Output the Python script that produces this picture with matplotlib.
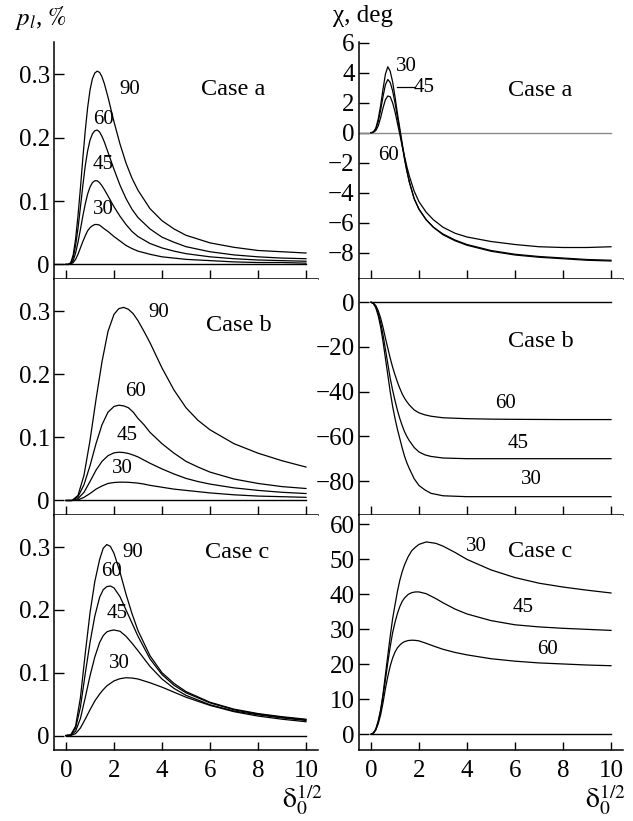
import numpy as np
import matplotlib
matplotlib.use("Agg")
import matplotlib.pyplot as plt
from matplotlib.ticker import FixedLocator, FuncFormatter

plt.rcParams["font.family"] = ["Liberation Serif", "DejaVu Serif"]
plt.rcParams["mathtext.fontset"] = "stix"

angles = ["90", "60", "45", "30"]
angles_chi = ["30", "45", "60"]

# ---- Case a: degree of linear polarization, p_l (%) ----
xa = [0, 0.1, 0.2, 0.3, 0.4, 0.5, 0.6, 0.7, 0.8, 0.9, 1.0, 1.1, 1.2, 1.3, 1.4, 1.5, 1.6, 1.75,
      2.0, 2.25, 2.5, 2.75, 3.0, 3.5, 4, 4.5, 5, 6, 7, 8, 9, 10]
pa_90 = [0, 0, 0.003, 0.015, 0.04, 0.077, 0.12, 0.167, 0.21, 0.247, 0.275, 0.293, 0.302, 0.305, 0.303, 0.296,
         0.285, 0.264, 0.225, 0.19, 0.16, 0.136, 0.117, 0.088, 0.069, 0.056, 0.046, 0.034, 0.027, 0.022, 0.020, 0.018]
pa_60 = [0, 0, 0.002, 0.011, 0.03, 0.057, 0.09, 0.124, 0.155, 0.179, 0.196, 0.206, 0.211, 0.212, 0.209, 0.202,
         0.193, 0.177, 0.150, 0.125, 0.104, 0.087, 0.074, 0.056, 0.043, 0.035, 0.028, 0.020, 0.015, 0.012, 0.010, 0.009]
pa_45 = [0, 0, 0.001, 0.006, 0.018, 0.035, 0.055, 0.076, 0.095, 0.111, 0.122, 0.129, 0.132, 0.132, 0.129, 0.124,
         0.118, 0.108, 0.091, 0.076, 0.063, 0.052, 0.044, 0.033, 0.026, 0.021, 0.017, 0.012, 0.009, 0.007, 0.006, 0.005]
pa_30 = [0, 0, 0.0005, 0.003, 0.008, 0.016, 0.026, 0.036, 0.045, 0.053, 0.058, 0.061, 0.063, 0.063, 0.062, 0.059,
         0.056, 0.052, 0.044, 0.037, 0.030, 0.025, 0.021, 0.016, 0.012, 0.010, 0.008, 0.006, 0.004, 0.003, 0.003, 0.002]

# ---- Case a: polarization angle, chi (deg) ----
xca = [0, 0.1, 0.2, 0.3, 0.4, 0.5, 0.6, 0.7, 0.8, 0.9, 1.0, 1.1, 1.2, 1.3, 1.4, 1.5, 1.6, 1.8, 2.0, 2.3,
       2.6, 3, 3.5, 4, 5, 6, 7, 8, 9, 10]
ca_30 = [0, 0.05, 0.3, 0.9, 1.8, 2.9, 3.9, 4.4, 4.1, 3.4, 2.4, 1.3, 0.3, -0.7, -1.7, -2.55, -3.3, -4.4, -5.1,
         -5.8, -6.3, -6.8, -7.2, -7.5, -7.9, -8.15, -8.3, -8.4, -8.5, -8.55]
ca_45 = [0, 0.05, 0.25, 0.75, 1.5, 2.4, 3.2, 3.55, 3.35, 2.8, 2.0, 1.05, 0.1, -0.85, -1.8, -2.6, -3.3, -4.4,
         -5.1, -5.8, -6.3, -6.75, -7.15, -7.45, -7.85, -8.1, -8.25, -8.35, -8.45, -8.5]
ca_60 = [0, 0.03, 0.15, 0.45, 1.0, 1.65, 2.2, 2.45, 2.4, 2.0, 1.4, 0.65, -0.1, -0.9, -1.6, -2.3, -2.9, -3.9,
         -4.6, -5.3, -5.8, -6.3, -6.7, -6.95, -7.25, -7.45, -7.6, -7.65, -7.65, -7.6]

# ---- Case b ----
xb = [0, 0.25, 0.5, 0.75, 1.0, 1.25, 1.5, 1.75, 2.0, 2.2, 2.4, 2.6, 2.8, 3.0, 3.25, 3.5, 4, 4.5, 5, 5.5,
      6, 7, 8, 9, 10]
pb_90 = [0, 0, 0.008, 0.04, 0.095, 0.16, 0.22, 0.268, 0.295, 0.304, 0.306, 0.303, 0.296, 0.285, 0.268, 0.25,
         0.21, 0.175, 0.147, 0.127, 0.112, 0.09, 0.075, 0.063, 0.053]
pb_60 = [0, 0, 0.006, 0.025, 0.055, 0.09, 0.12, 0.14, 0.149, 0.151, 0.150, 0.147, 0.14, 0.13, 0.12, 0.108,
         0.09, 0.075, 0.062, 0.053, 0.045, 0.034, 0.027, 0.022, 0.019]
pb_45 = [0, 0, 0.003, 0.013, 0.03, 0.048, 0.062, 0.071, 0.0755, 0.0765, 0.076, 0.0745, 0.072, 0.069, 0.064,
         0.059, 0.05, 0.042, 0.035, 0.030, 0.026, 0.02, 0.016, 0.013, 0.011]
pb_30 = [0, 0, 0.001, 0.005, 0.011, 0.018, 0.023, 0.027, 0.0285, 0.029, 0.029, 0.0288, 0.0282, 0.0275, 0.026,
         0.024, 0.021, 0.018, 0.016, 0.014, 0.012, 0.009, 0.007, 0.006, 0.005]

xcb = [0, 0.1, 0.2, 0.3, 0.4, 0.5, 0.6, 0.7, 0.8, 0.9, 1.0, 1.1, 1.2, 1.3, 1.4, 1.5, 1.6, 1.8, 2.0, 2.25,
       2.5, 3, 4, 5, 6, 8, 10]
cb_60 = [0, -0.4, -1.5, -3.8, -7, -11.2, -16, -20.5, -25, -29, -32.5, -35.7, -38.5, -41, -43, -44.6, -46,
         -48.2, -49.5, -50.4, -51, -51.7, -52.1, -52.3, -52.4, -52.5, -52.5]
cb_45 = [0, -0.5, -2, -5, -9, -14.5, -21, -27.5, -34, -39.3, -44, -48.3, -52, -55.2, -58, -60.2, -62, -65,
         -67, -68.3, -69, -69.7, -70, -70, -70, -70, -70]
cb_30 = [0, -0.6, -2.5, -6, -11, -17.5, -25, -32.5, -40, -46.5, -52, -56.8, -61, -65.2, -69, -72, -74.5,
         -79, -82, -84, -85.5, -86.6, -87, -87, -87, -87, -87]

# ---- Case c ----
xc = [0, 0.2, 0.4, 0.6, 0.8, 1.0, 1.2, 1.4, 1.55, 1.7, 1.85, 2.0, 2.25, 2.5, 2.75, 3, 3.5, 4, 4.5, 5,
      6, 7, 8, 9, 10]
pc_90 = [0, 0.001, 0.015, 0.06, 0.13, 0.195, 0.245, 0.28, 0.298, 0.304, 0.301, 0.29, 0.26, 0.225, 0.194,
         0.167, 0.127, 0.1, 0.083, 0.07, 0.053, 0.042, 0.035, 0.030, 0.026]
pc_60 = [0, 0.001, 0.012, 0.045, 0.098, 0.148, 0.19, 0.22, 0.232, 0.237, 0.238, 0.235, 0.221, 0.2, 0.179,
         0.158, 0.122, 0.097, 0.08, 0.068, 0.052, 0.041, 0.034, 0.029, 0.025]
pc_45 = [0, 0.0005, 0.007, 0.027, 0.06, 0.095, 0.125, 0.148, 0.159, 0.165, 0.167, 0.168, 0.166, 0.158,
         0.147, 0.135, 0.11, 0.09, 0.075, 0.064, 0.049, 0.039, 0.033, 0.028, 0.024]
pc_30 = [0, 0.0002, 0.003, 0.012, 0.026, 0.041, 0.055, 0.066, 0.073, 0.079, 0.083, 0.087, 0.0905, 0.092,
         0.0915, 0.09, 0.084, 0.077, 0.069, 0.061, 0.048, 0.038, 0.031, 0.026, 0.022]

xcc = [0, 0.1, 0.2, 0.3, 0.4, 0.5, 0.6, 0.7, 0.8, 0.9, 1.0, 1.1, 1.2, 1.3, 1.4, 1.55, 1.7, 1.85, 2.0, 2.3,
       2.7, 3, 3.5, 4, 5, 6, 7, 8, 9, 10]
cc_30 = [0, 0.4, 1.5, 3.8, 7, 11.5, 17, 22.5, 28, 33, 37, 40.8, 44, 46.5, 48.5, 50.8, 52.5, 53.5, 54.3, 55,
         54.6, 53.8, 52, 50, 47, 44.8, 43.2, 42.1, 41.2, 40.4]
cc_45 = [0, 0.35, 1.4, 3.5, 6.5, 10.8, 15.5, 20.5, 25, 29, 32, 34.5, 36.5, 38, 39, 40, 40.5, 40.7, 40.7,
         40.2, 38.8, 37.6, 35.8, 34.4, 32.5, 31.3, 30.7, 30.3, 30, 29.7]
cc_60 = [0, 0.3, 1.2, 3, 5.5, 9, 13, 16.5, 19.5, 21.8, 23.5, 24.7, 25.5, 26.1, 26.5, 26.8, 26.9, 26.85,
         26.7, 26.0, 25.0, 24.3, 23.4, 22.7, 21.6, 20.9, 20.4, 20.1, 19.8, 19.6]

x_ticks = [0, 2, 4, 6, 8, 10]
p_ticks = [0, 0.1, 0.2, 0.3]
chi_ticks_a = [-8, -6, -4, -2, 0, 2, 4, 6]
chi_ticks_b = [-80, -60, -40, -20, 0]
chi_ticks_c = [0, 10, 20, 30, 40, 50, 60]

W, H = 633, 821
fig = plt.figure(figsize=(W / 100, H / 100), dpi=100)


def px_axes(x0, x1, y0, y1):
    return fig.add_axes([x0 / W, 1 - y1 / H, (x1 - x0) / W, (y1 - y0) / H])


rows = [(42, 279), (279, 515), (515, 750)]
lcol = (54, 318)
rcol = (359, 623)

LW = 0.9
TXT = 15
CASE = 17.5
TICKF = 18


def style(ax, ylim, yticks, yfmt, bottom_row):
    ax.set_xlim(-0.5, 10.5)
    ax.set_ylim(*ylim)
    for s in ("top", "right"):
        ax.spines[s].set_visible(False)
    for s in ("left", "bottom"):
        ax.spines[s].set_linewidth(1.1)
    ax.xaxis.set_major_locator(FixedLocator(x_ticks))
    ax.yaxis.set_major_locator(FixedLocator(yticks))
    ax.yaxis.set_major_formatter(FuncFormatter(yfmt))
    ax.tick_params(axis="y", direction="in", length=7, width=1, labelsize=TICKF, pad=3)
    if bottom_row:
        ax.tick_params(axis="x", direction="in", length=6, width=1, labelsize=TICKF, pad=7)
    else:
        ax.tick_params(axis="x", direction="inout", length=13, width=1, labelbottom=False)


pfmt = lambda v, pos: "0" if v == 0 else f"{v:.1f}"
ifmt = lambda v, pos: f"{int(v)}".replace("-", "\u2212")

p_sets = [
    (xa, [pa_90, pa_60, pa_45, pa_30]),
    (xb, [pb_90, pb_60, pb_45, pb_30]),
    (xc, [pc_90, pc_60, pc_45, pc_30]),
]
chi_sets = [
    (xca, [ca_30, ca_45, ca_60]),
    (xcb, [cb_30, cb_45, cb_60]),
    (xcc, [cc_30, cc_45, cc_60]),
]
case_names = ["Case a", "Case b", "Case c"]

p_label_pos = [
    [(2.67, 0.276), (1.55, 0.229), (1.55, 0.157), (1.55, 0.086)],
    [(3.85, 0.298), (2.88, 0.172), (2.53, 0.103), (2.36, 0.050)],
    [(2.8, 0.291), (1.88, 0.261), (2.11, 0.194), (2.22, 0.115)],
]
p_case_pos = [(6.96, 0.276), (7.18, 0.277), (7.14, 0.292)]

chi_label_pos = [
    [(1.49, 4.4), (2.22, 3.03), (0.72, -1.49)],
    [(6.7, -79.5), (6.14, -63.1), (5.61, -45.2)],
    [(4.4, 53.8), (6.35, 36.3), (7.36, 24.1)],
]
chi_case_pos = [(7.04, 2.85), (7.08, -17.6), (7.04, 52.2)]
chi_ylims = [(-9.75, 6.05), (-95.2, 10.4), (-4.5, 62.7)]
chi_ticks = [chi_ticks_a, chi_ticks_b, chi_ticks_c]

for i, (y0, y1) in enumerate(rows):
    last = i == 2
    # left column: p_l
    ax = px_axes(lcol[0], lcol[1], y0, y1)
    style(ax, (-0.023, 0.351), p_ticks, pfmt, last)
    xs, curves = p_sets[i]
    ax.plot([-0.5 if i == 0 else 0, 10], [0, 0], color="black", lw=1.0)
    for c in curves:
        ax.plot(xs, c, color="black", lw=LW)
    for lab, (tx, ty) in zip(angles, p_label_pos[i]):
        ax.text(tx, ty, lab, fontsize=TXT, ha="center", va="center")
    ax.text(*p_case_pos[i], case_names[i], fontsize=CASE, ha="center", va="center")

    # right column: chi
    ax = px_axes(rcol[0], rcol[1], y0, y1)
    style(ax, chi_ylims[i], chi_ticks[i], ifmt, last)
    xs, curves = chi_sets[i]
    if i == 0:
        ax.plot([-0.5, 10], [0, 0], color="#8a8a8a", lw=1.0)
    else:
        ax.plot([0, 10], [0, 0], color="black", lw=1.0)
    for c in curves:
        ax.plot(xs, c, color="black", lw=LW)
    for lab, (tx, ty) in zip(angles_chi, chi_label_pos[i]):
        ax.text(tx, ty, lab, fontsize=TXT, ha="center", va="center")
    if i == 0:
        ax.plot([1.1, 1.85], [3.03, 3.03], color="black", lw=0.9)
    ax.text(*chi_case_pos[i], case_names[i], fontsize=CASE, ha="center", va="center")

# axis titles
fig.text(15 / W, 1 - 18 / H, r"$p_l$, $\mathit{\%}$", fontsize=18, ha="left", va="center")
fig.text(333 / W, 1 - 16 / H, "χ, deg", fontsize=18, ha="left", va="center")
fig.text(302 / W, 1 - 800 / H, r"$\mathrm{\delta}_0^{1/2}$", fontsize=20, ha="center", va="center")
fig.text(605 / W, 1 - 800 / H, r"$\mathrm{\delta}_0^{1/2}$", fontsize=20, ha="center", va="center")

fig.savefig("out.png", dpi=100)
